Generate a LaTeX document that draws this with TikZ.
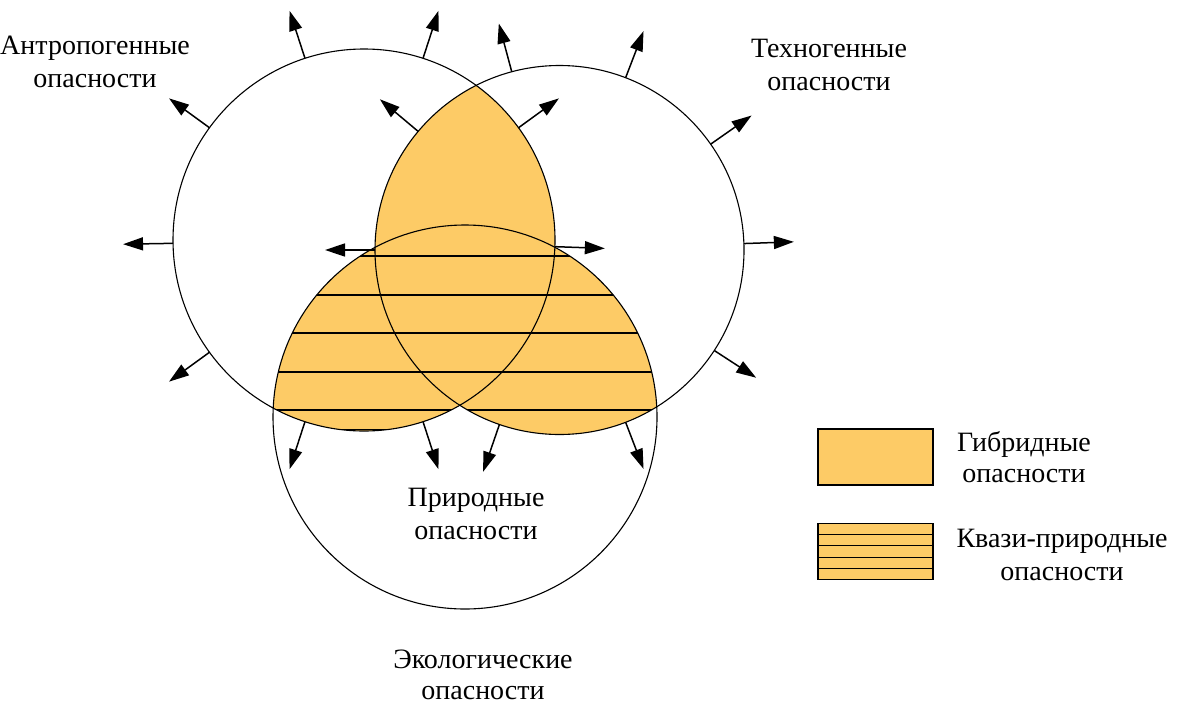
\documentclass[tikz,border=0pt]{standalone}
\usepackage{fontspec}
\setmainfont{Liberation Serif}
\usetikzlibrary{arrows.meta,calc}
\definecolor{hz}{RGB}{253,203,102}
\begin{document}
\begin{tikzpicture}[x=1pt,y=-1pt,
  ring/.style={circle, draw=black, line width=1.1pt, inner sep=0pt, outer sep=0pt},
  arr/.style={line width=1.5pt, -{Triangle[length=20pt,width=13pt]}},
  stripe/.style={line width=1.2pt},
  lbl/.style={align=center, font=\fontsize{28}{33}\selectfont, inner sep=0pt},
  legbox/.style={draw=black, line width=1.8pt, fill=hz, minimum width=115pt, minimum height=56pt, inner sep=0pt}]
\useasboundingbox (0,0) rectangle (1182,704);
\coordinate (cL) at (364,240);
\coordinate (cR) at (559.5,250);
\coordinate (cB) at (465,417);
% filled regions
\begin{scope}
  \clip (cL) circle[radius=191pt];
  \fill[hz] (cR) circle[radius=184.5pt];
\end{scope}
\begin{scope}
  \clip (cB) circle[radius=192pt];
  \fill[hz] (cL) circle[radius=191pt];
  \fill[hz] (cR) circle[radius=184.5pt];
  \begin{scope}
    \clip (cL) circle[radius=191pt] (cR) circle[radius=184.5pt];
    \foreach \y in {256,295,333,372,410} \draw[stripe] (250,\y) -- (700,\y);
  \end{scope}
  \begin{scope}
    \clip (cL) circle[radius=191pt];
    \draw[stripe] (250,429.5) -- (700,429.5);
  \end{scope}
\end{scope}
% circles
\node[ring, minimum size=382pt] (L) at (cL) {};
\node[ring, minimum size=369pt] (R) at (cR) {};
\node[ring, minimum size=384pt] (B) at (cB) {};
% arrows
\foreach \a [count=\i] in {-2,36,72,108,144,181,216,252,288}{
  \coordinate (tL\i) at ($(L.\a)!-50pt!(L.center)$);
  \draw[arr] (L.\a) -- (tL\i);
}
\foreach \a [count=\i] in {2.5,35,69,105,140,180,251.5,291.5,327}{
  \coordinate (tR\i) at ($(R.\a)!-50pt!(R.center)$);
  \draw[arr] (R.\a) -- (tR\i);
}
% labels
\node[lbl] (tA) at (95,62) {Антропогенные\\опасности};
\node[lbl] (tT) at (829,65) {Техногенные\\опасности};
\node[lbl] (tP) at (476,514) {Природные\\опасности};
\node[lbl, font=\fontsize{28}{31}\selectfont] (tE) at (483,675) {Экологические\\опасности};
% legend
\node[legbox] (g1) at (875.5,457) {};
\node[lbl, font=\fontsize{28}{31}\selectfont] (tG) at (1024,457) {Гибридные\\опасности};
\node[legbox] (g2) at (875.5,551.5) {};
\foreach \k in {1,2,3,4}
  \draw[stripe] ($(g2.north west)!\k/5!(g2.south west)$) -- ($(g2.north east)!\k/5!(g2.south east)$);
\node[lbl] (tK) at (1062,555) {Квази-природные\\опасности};
\end{tikzpicture}
\end{document}
